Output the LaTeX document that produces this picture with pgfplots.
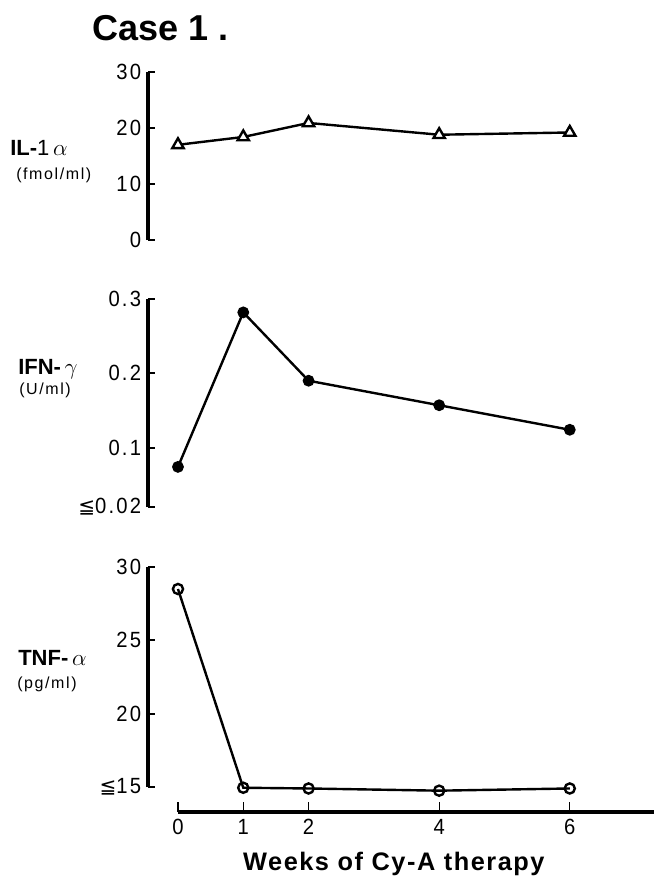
\documentclass[border=0pt]{standalone}
\usepackage{fontspec}
\setmainfont{Liberation Sans}
\newfontfamily\djv{DejaVu Sans}
\usepackage{pgfplots}
\pgfplotsset{compat=1.18}
\newcommand{\tickfont}{\fontsize{16.5}{18}\selectfont\addfontfeatures{FakeStretch=0.92,LetterSpace=10}}
\newcommand{\unitfont}{\fontsize{12}{14}\selectfont\addfontfeatures{LetterSpace=10}}
\newcommand{\labfont}{\fontsize{16.5}{19}\selectfont}
\newcommand{\leqq}{{\djv\fontsize{15}{15}\selectfont ≦}}
\pgfplotsset{
  panel/.style={
    scale only axis,
    width=379.5pt,
    xmin=-0.459, xmax=7.29,
    axis x line=none,
    axis y line=left,
    y axis line style={-, line width=2.6pt, line cap=butt},
    tick align=inside,
    major tick length=5pt,
    every tick/.style={line width=1.5pt, black},
    xtick=\empty,
    yticklabel style={font=\tickfont, anchor=east, inner sep=0pt, xshift=-5pt},
    /pgf/number format/assume math mode=true,
    clip=false,
  },
  data/.style={black, line width=1.8pt, mark options={line width=1pt, solid}},
}
\begin{document}
\begin{tikzpicture}
\path[use as bounding box] (0,0) rectangle (498pt,-657pt);

% Title
\node[anchor=west, inner sep=0pt, font=\fontsize{27}{31}\selectfont\bfseries] at (69pt,-21pt) {Case 1 .};

% Panel 1: IL-1 alpha
\begin{axis}[panel, at={(111pt,-180pt)}, anchor=south west, height=126pt,
  ymin=0, ymax=30, ytick={0,10,20,30}]
\addplot[data, mark=triangle*, mark size=4.9pt, mark options={fill=white, draw=black}] coordinates {
 (0,17.0) (1,18.4) (2,20.9) (4,18.8) (6,19.2)};
\end{axis}
\node[anchor=west, inner sep=0pt, font=\labfont] at (7.5pt,-111pt) {\textbf{IL-}1\,{\fontsize{19}{21}\selectfont$\alpha$}};
\node[anchor=west, inner sep=0pt, font=\unitfont] at (12pt,-131.25pt) {(fmol/ml)};

% Panel 2: IFN-gamma
\begin{axis}[panel, at={(111pt,-380.25pt)}, anchor=south west, height=156pt,
  ymin=0.02, ymax=0.3, ytick={0.02,0.1,0.2,0.3},
  yticklabels={\leqq0.02, 0.1, 0.2, 0.3}]
\addplot[data, mark=*, mark size=3.5pt, mark options={fill=black, draw=black}] coordinates {
 (0,0.074) (1,0.282) (2,0.19) (4,0.157) (6,0.124)};
\end{axis}
\node[anchor=west, inner sep=0pt, font=\labfont] at (13.5pt,-276.75pt) {\textbf{IFN-}\,{\fontsize{19}{21}\selectfont$\gamma$}};
\node[anchor=west, inner sep=0pt, font=\unitfont] at (14.25pt,-292.5pt) {(U/ml)};

% Panel 3: TNF-alpha
\begin{axis}[panel, at={(111pt,-590.25pt)}, anchor=south west, height=165pt,
  ymin=15, ymax=30, ytick={15,20,25,30},
  yticklabels={\leqq15, 20, 25, 30}]
\addplot[data, mark=o, mark size=3.8pt, mark options={fill=white, draw=black}] coordinates {
 (0,28.5) (1,14.95) (2,14.9) (4,14.75) (6,14.9)};
\end{axis}
\node[anchor=west, inner sep=0pt, font=\labfont] at (13.5pt,-493.5pt) {\textbf{TNF-}\,{\fontsize{19}{21}\selectfont$\alpha$}};
\node[anchor=west, inner sep=0pt, font=\unitfont] at (12.75pt,-513pt) {(pg/ml)};

% X axis
\begin{axis}[scale only axis, at={(133.5pt,-609pt)}, anchor=south west,
  width=357pt, height=20pt, xmin=0, xmax=7.29, ymin=0, ymax=1,
  axis y line=none, axis x line=bottom,
  x axis line style={-, line width=2.3pt, line cap=butt},
  xtick={0,1,2,4,6}, tick align=inside, major tick length=7.5pt,
  every tick/.style={line width=1pt, black},
  xticklabel style={font=\tickfont, anchor=north, inner sep=0pt, yshift=-5pt},
  /pgf/number format/assume math mode=true,
  xlabel={\addfontfeatures{LetterSpace=6}Weeks of Cy-A therapy},
  xlabel style={font=\fontsize{19}{21}\selectfont\bfseries, at={(axis description cs:0.4535,0)}, anchor=center, yshift=-39pt},
  clip=false]
\end{axis}
\end{tikzpicture}
\end{document}
